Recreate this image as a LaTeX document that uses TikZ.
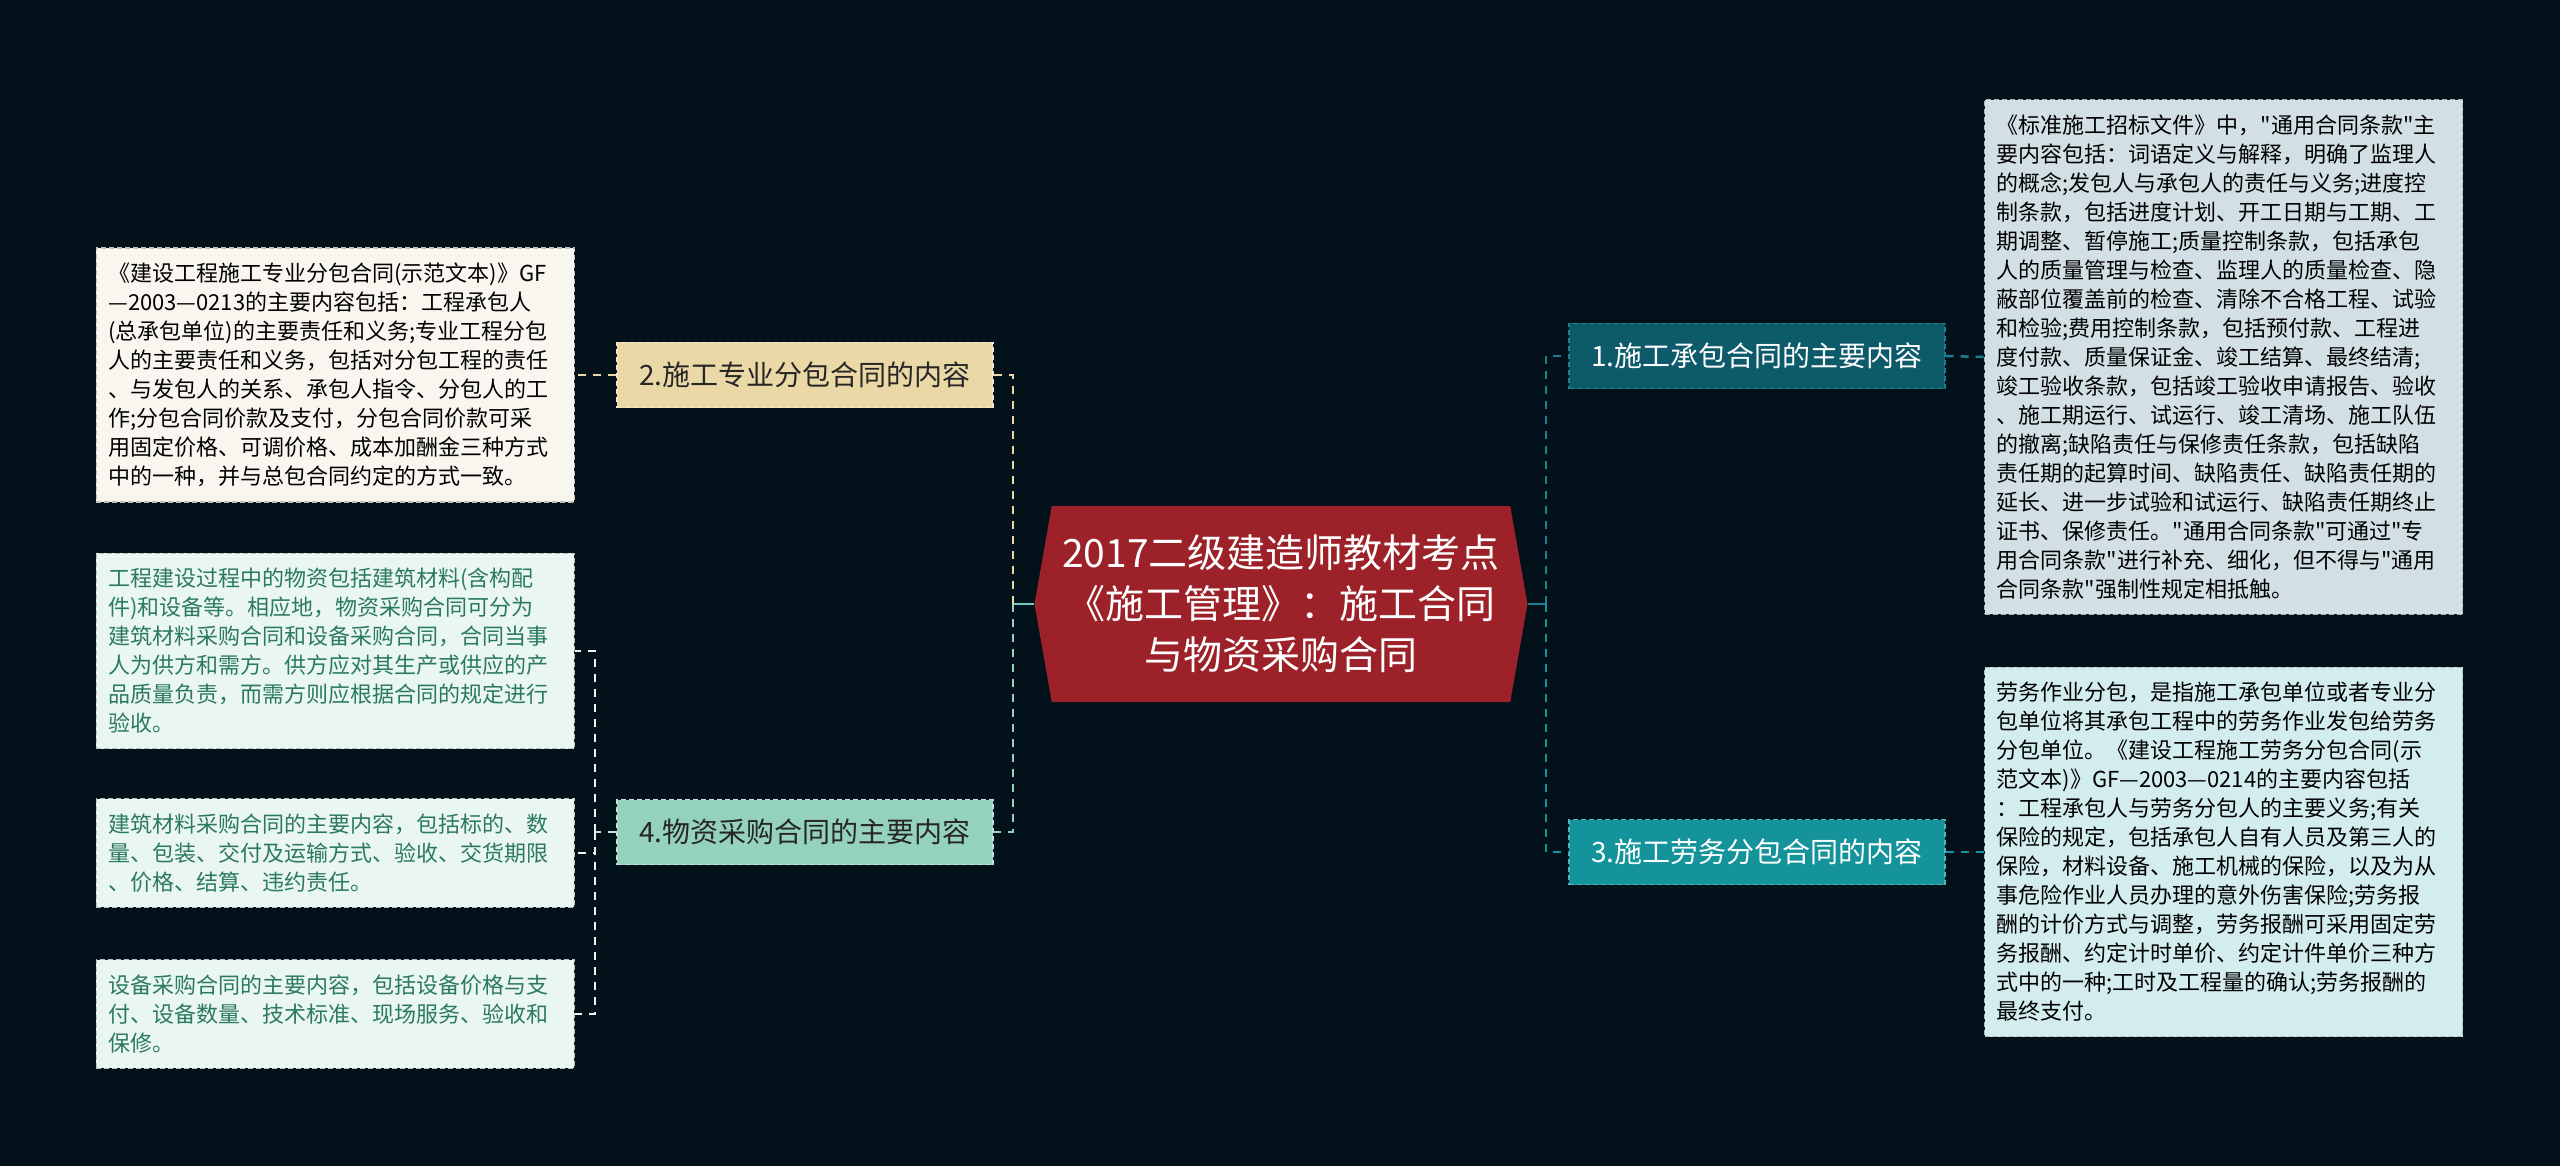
\documentclass[tikz,border=0pt]{standalone}
\usepackage{fontspec}
\setmainfont{Noto Sans CJK SC}[Ligatures=TeXOff]
\usetikzlibrary{shapes.symbols}
\definecolor{bg_dark}{HTML}{03111B}
\definecolor{title_red}{HTML}{9C2128}
\definecolor{b1_fill}{HTML}{0D5A6A}
\definecolor{b3_fill}{HTML}{14939A}
\definecolor{b2_fill}{HTML}{EAD9A7}
\definecolor{b4_fill}{HTML}{95D2BC}
\definecolor{r1_fill}{HTML}{D2E0E5}
\definecolor{r3_fill}{HTML}{D3ECEE}
\definecolor{l2_fill}{HTML}{F8F6EE}
\definecolor{l4_fill}{HTML}{EAF6F2}
\definecolor{l4_text}{HTML}{2B7A5C}
\definecolor{dark_text}{HTML}{262626}
\definecolor{stub_left}{HTML}{6CCBBE}
\definecolor{stub_right}{HTML}{1C7F8C}

\begin{document}
\begin{tikzpicture}[x=1pt,y=-1pt,
    leaf/.style={draw, dash pattern=on 5pt off 3pt, line width=1.2pt, text width=454pt, align=left,
      inner xsep=12pt, inner ysep=15pt, font=\fontsize{22}{29}\selectfont},
    branch/.style={draw, dash pattern=on 5pt off 3pt, line width=1.2pt, minimum width=376pt,
      minimum height=65pt, inner sep=0pt, font=\fontsize{28}{34}\selectfont},
    link/.style={line width=2.5pt, dash pattern=on 8pt off 7pt}]
    \useasboundingbox (0,0) rectangle (2560,1166);
    \fill[bg_dark] (0,0) rectangle (2560,1166);

    \node[signal, signal to=west and east, signal pointer angle=160, fill=title_red, text=white,
      minimum width=493pt, minimum height=196pt, inner sep=0pt, align=center,
      font=\fontsize{39}{51}\selectfont] (ctr) at (1281,604)
      {2017二级建造师教材考点\\《施工管理》：施工合同\\与物资采购合同};

    \node[branch, fill=b1_fill, draw=stub_right, text=white] (b1) at (1757,356) {1.施工承包合同的主要内容};
    \node[branch, fill=b3_fill, draw=b3_fill!70!white, text=white] (b3) at (1757,852) {3.施工劳务分包合同的内容};
    \node[branch, fill=b2_fill, draw=b2_fill!60!white, text=dark_text] (b2) at (805,375) {2.施工专业分包合同的内容};
    \node[branch, fill=b4_fill, draw=b4_fill!60!white, text=dark_text] (b4) at (805,832) {4.物资采购合同的主要内容};

    \node[leaf, anchor=west, fill=r1_fill, draw=r1_fill!55!gray] (r1) at (1984,357) {%
      《标准施工招标文件》中，"通用合同条款"主\\
      要内容包括：词语定义与解释，明确了监理人\\
      的概念;发包人与承包人的责任与义务;进度控\\
      制条款，包括进度计划、开工日期与工期、工\\
      期调整、暂停施工;质量控制条款，包括承包\\
      人的质量管理与检查、监理人的质量检查、隐\\
      蔽部位覆盖前的检查、清除不合格工程、试验\\
      和检验;费用控制条款，包括预付款、工程进\\
      度付款、质量保证金、竣工结算、最终结清;\\
      竣工验收条款，包括竣工验收申请报告、验收\\
      、施工期运行、试运行、竣工清场、施工队伍\\
      的撤离;缺陷责任与保修责任条款，包括缺陷\\
      责任期的起算时间、缺陷责任、缺陷责任期的\\
      延长、进一步试验和试运行、缺陷责任期终止\\
      证书、保修责任。"通用合同条款"可通过"专\\
      用合同条款"进行补充、细化，但不得与"通用\\
      合同条款"强制性规定相抵触。};
    \node[leaf, anchor=west, fill=r3_fill, draw=r3_fill!55!gray] (r3) at (1984,852) {%
      劳务作业分包，是指施工承包单位或者专业分\\
      包单位将其承包工程中的劳务作业发包给劳务\\
      分包单位。《建设工程施工劳务分包合同(示\\
      范文本)》GF—2003—0214的主要内容包括\\
      ：工程承包人与劳务分包人的主要义务;有关\\
      保险的规定，包括承包人自有人员及第三人的\\
      保险，材料设备、施工机械的保险，以及为从\\
      事危险作业人员办理的意外伤害保险;劳务报\\
      酬的计价方式与调整，劳务报酬可采用固定劳\\
      务报酬、约定计时单价、约定计件单价三种方\\
      式中的一种;工时及工程量的确认;劳务报酬的\\
      最终支付。};
    \node[leaf, anchor=east, fill=l2_fill, draw=l2_fill!55!gray] (l2) at (575,375) {%
      《建设工程施工专业分包合同(示范文本)》GF\\
      —2003—0213的主要内容包括：工程承包人\\
      (总承包单位)的主要责任和义务;专业工程分包\\
      人的主要责任和义务，包括对分包工程的责任\\
      、与发包人的关系、承包人指令、分包人的工\\
      作;分包合同价款及支付，分包合同价款可采\\
      用固定价格、可调价格、成本加酬金三种方式\\
      中的一种，并与总包合同约定的方式一致。};
    \node[leaf, anchor=east, fill=l4_fill, draw=l4_fill!55!gray, text=l4_text] (l4a) at (575,651) {%
      工程建设过程中的物资包括建筑材料(含构配\\
      件)和设备等。相应地，物资采购合同可分为\\
      建筑材料采购合同和设备采购合同，合同当事\\
      人为供方和需方。供方应对其生产或供应的产\\
      品质量负责，而需方则应根据合同的规定进行\\
      验收。};
    \node[leaf, anchor=east, fill=l4_fill, draw=l4_fill!55!gray, text=l4_text] (l4b) at (575,853) {%
      建筑材料采购合同的主要内容，包括标的、数\\
      量、包装、交付及运输方式、验收、交货期限\\
      、价格、结算、违约责任。};
    \node[leaf, anchor=east, fill=l4_fill, draw=l4_fill!55!gray, text=l4_text] (l4c) at (575,1014) {%
      设备采购合同的主要内容，包括设备价格与支\\
      付、设备数量、技术标准、现场服务、验收和\\
      保修。};

    % center to branches
    \coordinate (jl) at (1013,604);
    \coordinate (jr) at (1546,604);
    \draw[stub_left, line width=2.5pt] (ctr.west) -- (jl);
    \draw[stub_right, line width=2.5pt] (ctr.east) -- (jr);
    \draw[link, b2_fill] (jl) |- (b2.east);
    \draw[link, b4_fill] (jl) |- (b4.east);
    \draw[link, stub_right] (jr) |- (b1.west);
    \draw[link, b3_fill] (jr) |- (b3.west);

    % branches to leaves
    \draw[link, stub_right] (b1.east) -- (r1.west);
    \draw[link, b3_fill] (b3.east) -- (r3.west);
    \draw[link, b2_fill] (b2.west) -- (l2.east);
    \coordinate (j4) at (595,832);
    \draw[link, b4_fill!60!white] (b4.west) -- (j4);
    \draw[link, l4_fill] (j4) |- (l4a.east);
    \draw[link, l4_fill] (j4) |- (l4b.east);
    \draw[link, l4_fill] (j4) |- (l4c.east);
\end{tikzpicture}
\end{document}
